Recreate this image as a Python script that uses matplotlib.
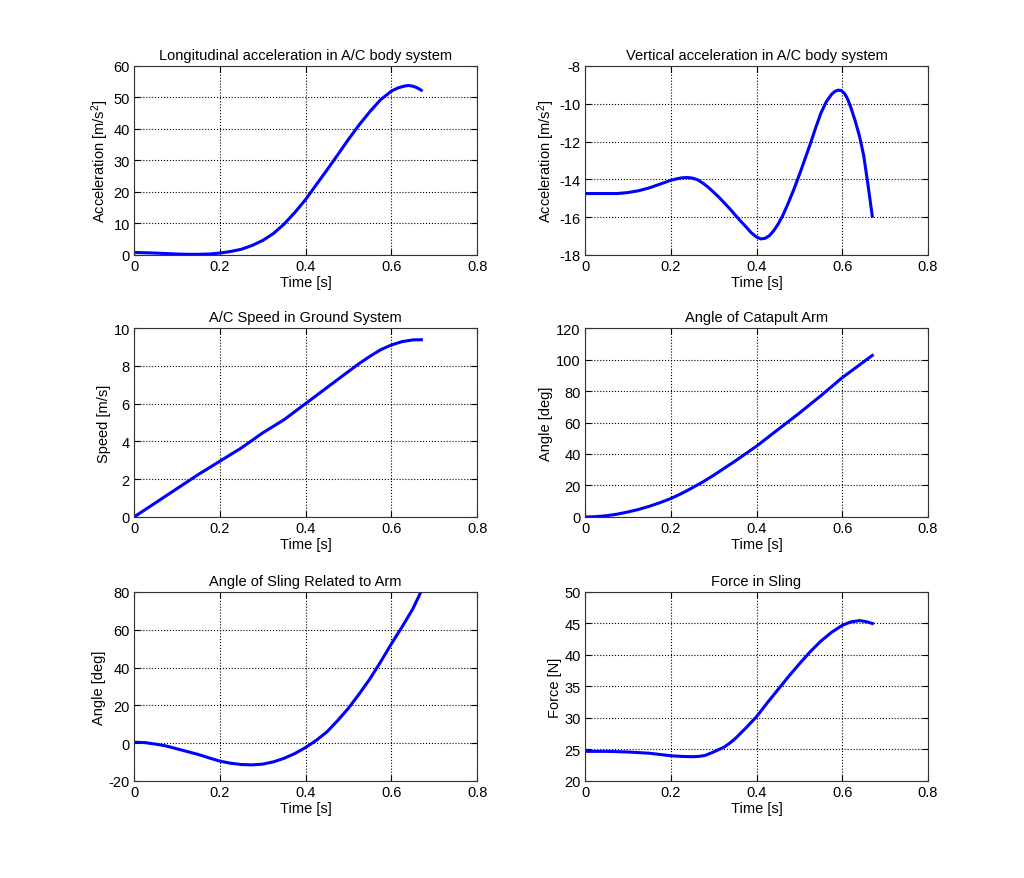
import matplotlib
matplotlib.use('Agg')
import matplotlib.pyplot as plt
from matplotlib import rcParams

rcParams['font.family'] = ['Liberation Sans', 'DejaVu Sans']
rcParams['mathtext.fontset'] = 'custom'
rcParams['mathtext.rm'] = 'Liberation Sans'
rcParams['mathtext.it'] = 'Liberation Sans'
rcParams['font.size'] = 10.5

# Longitudinal acceleration
t_long = [0, 0.025, 0.05, 0.075, 0.1, 0.125, 0.15, 0.175, 0.2, 0.225, 0.25, 0.275, 0.3,
          0.325, 0.35, 0.375, 0.4, 0.425, 0.45, 0.475, 0.5, 0.525, 0.55, 0.575, 0.6,
          0.615, 0.63, 0.64, 0.65, 0.66, 0.67]
acc_long = [0.8, 0.7, 0.6, 0.45, 0.3, 0.2, 0.2, 0.3, 0.6, 1.1, 1.8, 3.0, 4.6,
            6.8, 9.8, 13.5, 17.6, 22.3, 27.0, 31.8, 36.7, 41.3, 45.5, 49.3, 52.0,
            53.0, 53.6, 53.8, 53.6, 53.1, 52.3]

# Vertical acceleration
t_vert = [0, 0.025, 0.05, 0.075, 0.1, 0.125, 0.15, 0.175, 0.2, 0.2125, 0.225, 0.2375,
          0.25, 0.2625, 0.275, 0.2875, 0.3, 0.3125, 0.325, 0.3375, 0.35, 0.3625, 0.375,
          0.3875, 0.4, 0.41, 0.42, 0.43, 0.44, 0.45, 0.4625, 0.475, 0.4875, 0.5, 0.5125,
          0.525, 0.5375, 0.55, 0.5625, 0.575, 0.5825, 0.59, 0.5975, 0.605, 0.6125, 0.62,
          0.63, 0.64, 0.65, 0.66, 0.67]
acc_vert = [-14.75, -14.75, -14.75, -14.75, -14.7, -14.6, -14.45, -14.25, -14.05, -13.98,
            -13.92, -13.9, -13.93, -14.02, -14.2, -14.42, -14.68, -14.95, -15.25, -15.55,
            -15.88, -16.2, -16.5, -16.82, -17.05, -17.15, -17.12, -16.98, -16.72, -16.38,
            -15.85, -15.2, -14.5, -13.75, -12.95, -12.15, -11.3, -10.5, -9.9, -9.5,
            -9.35, -9.28, -9.3, -9.45, -9.75, -10.2, -10.9, -11.7, -12.75, -14.3, -15.95]

# Speed
t_speed = [0, 0.05, 0.1, 0.15, 0.2, 0.25, 0.3, 0.35, 0.4, 0.45, 0.5, 0.525, 0.55, 0.575,
           0.6, 0.625, 0.65, 0.67]
speed = [0, 0.75, 1.5, 2.25, 2.95, 3.65, 4.45, 5.15, 6.0, 6.85, 7.7, 8.12, 8.5, 8.85,
         9.1, 9.28, 9.37, 9.38]

# Catapult arm angle
t_arm = [0, 0.025, 0.05, 0.075, 0.1, 0.125, 0.15, 0.175, 0.2, 0.225, 0.25, 0.275, 0.3,
         0.35, 0.4, 0.45, 0.5, 0.55, 0.6, 0.67]
arm_angle = [0, 0.2, 0.8, 1.8, 3.2, 4.8, 6.8, 9.1, 11.7, 14.9, 18.5, 22.3, 26.5,
             35.5, 45, 55.5, 66, 77, 88.5, 102.6]

# Sling angle related to arm
t_sling = [0, 0.025, 0.05, 0.075, 0.1, 0.125, 0.15, 0.175, 0.2, 0.225, 0.25, 0.275, 0.3,
           0.325, 0.35, 0.375, 0.4, 0.425, 0.45, 0.475, 0.5, 0.525, 0.55, 0.575, 0.6,
           0.625, 0.65, 0.67]
sling_angle = [0.5, 0.3, -0.5, -1.5, -3, -4.5, -6, -7.8, -9.5, -10.6, -11.3, -11.5, -11.1,
               -9.9, -8.0, -5.5, -2.3, 1.5, 6, 12, 18.5, 26, 34, 43, 52.5,
               61.5, 71, 80.5]

# Force in sling
t_force = [0, 0.05, 0.1, 0.15, 0.2, 0.225, 0.25, 0.265, 0.28, 0.3, 0.3125, 0.325, 0.3375,
           0.35, 0.375, 0.4, 0.425, 0.45, 0.475, 0.5, 0.525, 0.55, 0.575, 0.6, 0.62,
           0.64, 0.655, 0.67]
force = [24.7, 24.7, 24.6, 24.4, 24.0, 23.9, 23.85, 23.9, 24.05, 24.6, 25.0, 25.4, 26.0,
         26.7, 28.4, 30.2, 32.4, 34.5, 36.6, 38.6, 40.5, 42.2, 43.6, 44.7, 45.25,
         45.45, 45.3, 45.0]

panels = [
    (t_long, acc_long, 'Longitudinal acceleration in A/C body system', r'Acceleration [m/s$^2$]', (0, 60), 10),
    (t_vert, acc_vert, 'Vertical acceleration in A/C body system', r'Acceleration [m/s$^2$]', (-18, -8), 2),
    (t_speed, speed, 'A/C Speed in Ground System', 'Speed [m/s]', (0, 10), 2),
    (t_arm, arm_angle, 'Angle of Catapult Arm', 'Angle [deg]', (0, 120), 20),
    (t_sling, sling_angle, 'Angle of Sling Related to Arm', 'Angle [deg]', (-20, 80), 20),
    (t_force, force, 'Force in Sling', 'Force [N]', (20, 50), 5),
]

fig = plt.figure(figsize=(10.24, 8.79), dpi=100)

lefts = [0.1309, 0.5713]
bottoms = [0.7088, 0.4107, 0.1104]
w, h = 0.335, 0.215

for i, (t, y, title, ylabel, ylim, step) in enumerate(panels):
    ax = fig.add_axes([lefts[i % 2], bottoms[i // 2], w, h])
    ax.plot(t, y, color='#0000ff', lw=2.2, solid_joinstyle='round')
    ax.set_xlim(0, 0.8)
    ax.set_ylim(*ylim)
    ax.set_xticks([0, 0.2, 0.4, 0.6, 0.8])
    ax.set_xticklabels(['0', '0.2', '0.4', '0.6', '0.8'])
    yt = list(range(ylim[0], ylim[1] + 1, step))
    ax.set_yticks(yt)
    ax.set_yticklabels([str(v) for v in yt])
    ax.grid(True, linestyle=':', color='black', linewidth=0.8)
    ax.tick_params(direction='in', length=4, top=True, right=True, labelsize=10.5, pad=3)
    ax.set_title(title, fontsize=10.5, pad=5)
    ax.set_xlabel('Time [s]', fontsize=10.5, labelpad=1)
    ax.set_ylabel(ylabel, fontsize=10.5, labelpad=2)
    for s in ax.spines.values():
        s.set_linewidth(0.8)
        s.set_color('#333333')

fig.savefig('out.png', dpi=100)
